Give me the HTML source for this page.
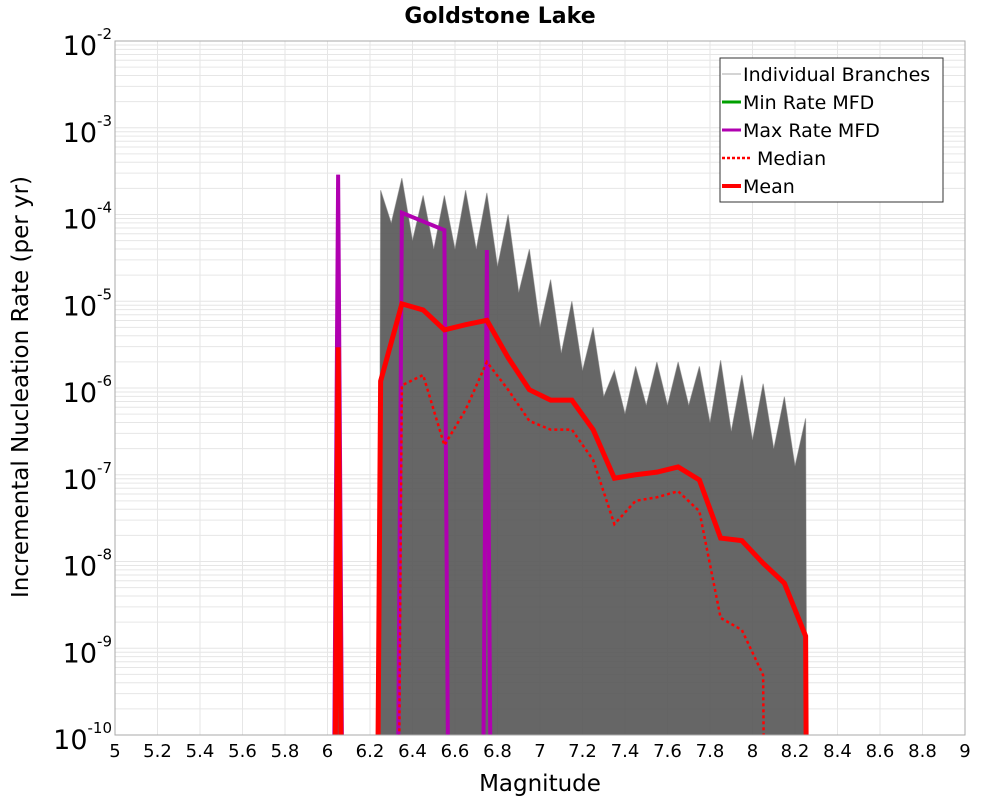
<!DOCTYPE html>
<html><head><meta charset="utf-8"><style>
body{margin:0;background:#fff;font-family:"DejaVu Sans","Liberation Sans",sans-serif}
svg text{font-family:"DejaVu Sans","Liberation Sans",sans-serif}
</style></head><body>
<svg id="c" width="1000" height="800" xmlns="http://www.w3.org/2000/svg"><defs><clipPath id="pc"><rect x="115" y="41" width="850" height="694"/></clipPath></defs></svg>
<script>
const bins=[5.95,6.05,6.15,6.25,6.35,6.45,6.55,6.65,6.75,6.85,6.95,7.05,7.15,7.25,7.35,7.45,7.55,7.65,7.75,7.85,7.95,8.05,8.15,8.25,8.35];
const meanLog=[-40,-5.53,-40,-5.92,-5.03,-5.10,-5.33,-5.27,-5.22,-5.65,-6.02,-6.14,-6.14,-6.48,-7.04,-7.0,-6.97,-6.91,-7.06,-7.73,-7.76,-8.02,-8.25,-8.86,-60];
const medianLog=[-40,-40,-40,-40,-5.97,-5.85,-6.66,-6.25,-5.70,-6.02,-6.38,-6.48,-6.48,-6.83,-7.57,-7.30,-7.26,-7.19,-7.42,-8.65,-8.79,-9.31,-40,-40,-40];
const maxLog=[-40,-3.54,-40,-40,-3.98,-4.08,-4.18,-40,-4.41,-40,-40,-40,-40,-40,-40,-40,-40,-40,-40,-40,-40,-40,-40,-40,-40];
const envPeak=[-40,-3.54,-40,-3.72,-3.58,-3.78,-3.78,-3.72,-3.75,-4.0,-4.4,-4.75,-5.0,-5.3,-5.8,-5.75,-5.7,-5.7,-5.75,-5.68,-5.85,-5.95,-6.1,-6.35,-40];
const envValley=[-40,-40,-40,-4.1,-4.3,-4.4,-4.4,-4.4,-4.6,-4.9,-5.3,-5.6,-5.8,-6.1,-6.3,-6.2,-6.2,-6.2,-6.4,-6.5,-6.6,-6.7,-6.9,-40,-40];
const xTicks=[5,5.2,5.4,5.6,5.8,6,6.2,6.4,6.6,6.8,7,7.2,7.4,7.6,7.8,8,8.2,8.4,8.6,8.8,9];
const yTicks=[-2,-3,-4,-5,-6,-7,-8,-9,-10];
const L=115,R=965,T=41,B=735;
const X=m=>L+(m-5)/4*(R-L);
const Y=lg=>T+(-2-lg)/8*(B-T);
const svg=document.getElementById('c');const NS='http://www.w3.org/2000/svg';
function mk(t,a,p){const e=document.createElementNS(NS,t);for(const k in a)e.setAttribute(k,a[k]);(p||svg).appendChild(e);return e;}
const g=mk('g',{});


for(let d=-10;d<-2;d++)for(let k=1;k<10;k++){const y=Y(d+Math.log10(k));mk('line',{x1:L,x2:R,y1:y,y2:y,stroke:'#e6e6e6','stroke-width':1},g);}
xTicks.forEach(v=>{mk('line',{x1:X(v),x2:X(v),y1:T,y2:B,stroke:'#e6e6e6','stroke-width':1},g);});
const plot=mk('g',{'clip-path':'url(#pc)'});
let pts=[];
bins.forEach((b,i)=>{pts.push([X(b),Y(envPeak[i])]);if(i<bins.length-1)pts.push([X(b+0.05),Y(envValley[i])]);});
const area=mk('polygon',{points:pts.map(p=>p.join(',')).join(' '),fill:'#555','fill-opacity':0.9,stroke:'#777','stroke-width':1,'stroke-opacity':0.5},plot);


function line(arr,color,w,dash,name){const d=bins.map((b,i)=>(i?'L':'M')+X(b)+','+Y(arr[i])).join(' ');const p=mk('path',{d:d,fill:'none',stroke:color,'stroke-width':w,'stroke-dasharray':dash||'none','stroke-linejoin':'miter'},plot);

}
line(maxLog,'#b000b0',4,null,'max-rate-mfd');
line(medianLog,'#ff0000',2.5,'3,3','median-line');
line(meanLog,'#ff0000',5,null,'mean-line');
mk('rect',{x:L,y:T,width:R-L,height:B-T,fill:'none',stroke:'#aaa'});
xTicks.forEach(v=>{const t=mk('text',{x:X(v),y:757,'font-size':18,'text-anchor':'middle'});t.textContent=v;

});
yTicks.forEach(d=>{const t=mk('text',{x:112,y:Y(d)+14,'font-size':27,'text-anchor':'end'});


t.textContent='10';const s=mk('tspan',{dy:-16,'font-size':15},t);s.textContent=String(d);});
</script>
<svg width="1000" height="800" style="position:absolute;left:0;top:0">
<text x="500" y="23" font-size="22" font-weight="bold" text-anchor="middle">Goldstone Lake</text>
<text x="540" y="791" font-size="23" text-anchor="middle">Magnitude</text>
<text transform="translate(28,387) rotate(-90)" font-size="23" text-anchor="middle">Incremental Nucleation Rate (per yr)</text>
<g>
<rect x="720" y="58" width="223" height="144" fill="#fff" stroke="#333"/>
<g><line x1="722" x2="741" y1="74" y2="74" stroke="#aaa"/><text x="743" y="81" font-size="19">Individual Branches</text></g>
<g><line x1="722" x2="741" y1="102" y2="102" stroke="#00a000" stroke-width="3"/><text x="743" y="109" font-size="19">Min Rate MFD</text></g>
<g><line x1="722" x2="741" y1="130" y2="130" stroke="#b000b0" stroke-width="3"/><text x="743" y="137" font-size="19">Max Rate MFD</text></g>
<g><line x1="722" x2="752" y1="158" y2="158" stroke="#f00" stroke-width="2.5" stroke-dasharray="3,2"/><text x="757" y="165" font-size="19">Median</text></g>
<g><line x1="722" x2="741" y1="186" y2="186" stroke="#f00" stroke-width="4"/><text x="743" y="193" font-size="19">Mean</text></g>
</g>
</svg>
</body></html>
